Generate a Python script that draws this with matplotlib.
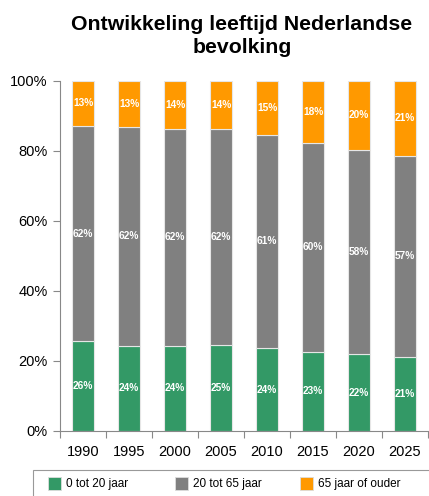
import matplotlib
matplotlib.use("Agg")
import matplotlib.pyplot as plt
from matplotlib.patches import Rectangle
from matplotlib.ticker import FixedLocator, PercentFormatter
import numpy as np

plt.rcParams['font.family'] = ['Liberation Sans', 'DejaVu Sans']

years = ['1990', '1995', '2000', '2005', '2010', '2015', '2020', '2025']
series_names = ['0 tot 20 jaar', '20 tot 65 jaar', '65 jaar of ouder']
jong = [25.6, 24.4, 24.4, 24.6, 23.6, 22.6, 22.0, 21.2]
midden = [61.6, 62.4, 62.0, 61.6, 61.1, 59.7, 58.4, 57.4]
oud = [12.8, 13.2, 13.6, 13.8, 15.3, 17.7, 19.6, 21.4]
colors = ['#339966', '#808080', '#FF9900']

W, H = 429, 496
fig = plt.figure(figsize=(W / 100, H / 100), dpi=100)
ax = fig.add_axes([60 / W, 1 - 431 / H, 368 / W, 350 / H])

x = np.arange(len(years))
bottom = np.zeros(len(years))
for vals, col, name in zip([jong, midden, oud], colors, series_names):
    vals = np.array(vals)
    ax.bar(x, vals, bottom=bottom, width=0.48, color=col,
           edgecolor='#e6e6e6', linewidth=0.8, label=name)
    for xi, b, v in zip(x, bottom, vals):
        ax.text(xi, b + v / 2, f"{round(v):d}%", ha='center', va='center',
                color='white', fontsize=7.3, fontweight='bold')
    bottom += vals

ax.set_xlim(-0.5, len(years) - 0.5)
ax.set_ylim(0, 100)
ax.set_xticks(x)
ax.set_xticklabels(years, fontsize=10.5)
ax.xaxis.set_minor_locator(FixedLocator(np.arange(-0.5, len(years), 1.0)))
ax.tick_params(axis='x', which='major', length=0, pad=10)
ax.tick_params(axis='x', which='minor', length=5, width=0.8, color='#888888', direction='out')
ax.set_yticks(np.arange(0, 101, 20))
ax.yaxis.set_major_formatter(PercentFormatter(decimals=0))
ax.tick_params(axis='y', length=5, width=0.8, color='#888888', labelsize=10.5, pad=4)

for s in ['top', 'right']:
    ax.spines[s].set_visible(False)
for s in ['left', 'bottom']:
    ax.spines[s].set_color('#888888')
    ax.spines[s].set_linewidth(0.8)

fig.text(242 / W, 1 - 36 / H, 'Ontwikkeling leeftijd Nederlandse\nbevolking',
         ha='center', va='center', fontsize=15.3, fontweight='bold',
         linespacing=1.3)

# Legend box drawn in figure pixels; it runs past the lower and right edges
fig.patches.append(Rectangle((33 / W, -10 / H), (W + 10 - 33) / W, (26 + 10) / H,
                             transform=fig.transFigure, facecolor='white',
                             edgecolor='#999999', linewidth=0.8))
legend_x = [48, 175, 300]
for lx, col, name in zip(legend_x, colors, series_names):
    fig.patches.append(Rectangle((lx / W, 1 - 490 / H), 13 / W, 13 / H,
                                 transform=fig.transFigure, facecolor=col,
                                 edgecolor='#dddddd', linewidth=0.6))
    fig.text((lx + 18) / W, 1 - 484 / H, name, ha='left', va='center',
             fontsize=8.5)

fig.savefig('out.png', dpi=100)
